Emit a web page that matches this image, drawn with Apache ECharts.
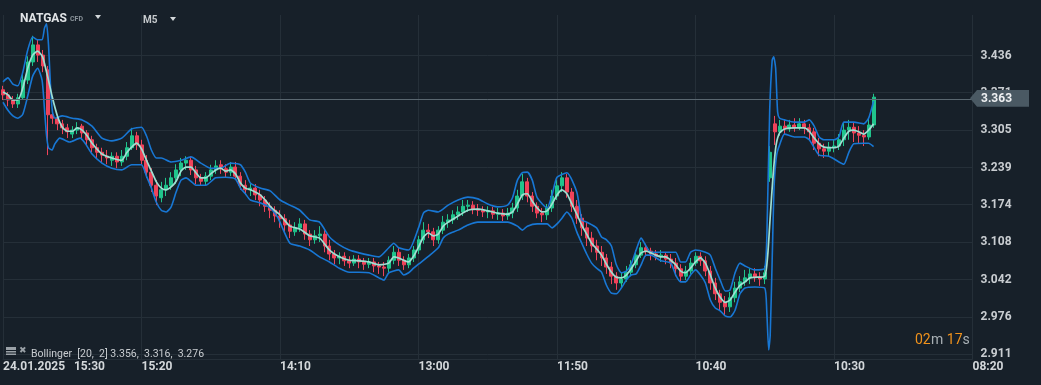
<!DOCTYPE html>
<html><head><meta charset="utf-8">
<script src="https://cdn.jsdelivr.net/npm/echarts@6/dist/echarts.min.js"></script>
<style>html,body{margin:0;padding:0;background:#172029;overflow:hidden;width:1041px;height:385px;}#c{width:1041px;height:385px;}</style>
</head><body><div id="c"></div>
<script>
const xLabels = ['24.01.2025   15:30', '15:20', '14:10', '13:00', '11:50', '10:40', '10:30', '08:20'];
const yTicks = [2.911, 2.976, 3.042, 3.108, 3.174, 3.239, 3.305, 3.371, 3.436];
const lastPrice = 3.363;
const bollingerText = 'Bollinger  [20,  2] 3.356,  3.316,  3.276';
const timerParts = [['02', 'o'], ['m', 'g'], ['17', 'o'], ['s', 'g']];
const slotCount = 197;
// [open, close, low, high]
const candles = [
[3.376,3.367,3.358,3.383],[3.367,3.358,3.347,3.372],[3.358,3.351,3.344,3.365],[3.351,3.362,3.344,3.369],
[3.362,3.393,3.358,3.404],[3.393,3.425,3.386,3.435],[3.425,3.455,3.418,3.471],[3.455,3.437,3.425,3.464],
[3.437,3.418,3.407,3.446],[3.411,3.332,3.261,3.418],[3.332,3.326,3.316,3.340],[3.326,3.316,3.305,3.332],
[3.316,3.309,3.298,3.323],[3.309,3.302,3.291,3.316],[3.298,3.305,3.291,3.312],[3.305,3.309,3.298,3.319],
[3.312,3.300,3.288,3.316],[3.300,3.288,3.277,3.305],[3.288,3.274,3.266,3.295],[3.274,3.266,3.256,3.281],
[3.266,3.261,3.249,3.274],[3.259,3.256,3.245,3.270],[3.252,3.259,3.242,3.266],[3.259,3.249,3.238,3.266],
[3.249,3.259,3.242,3.270],[3.259,3.274,3.252,3.284],[3.274,3.295,3.270,3.309],[3.295,3.279,3.270,3.302],
[3.279,3.252,3.244,3.288],[3.252,3.231,3.221,3.261],[3.231,3.208,3.196,3.238],[3.208,3.189,3.173,3.217],
[3.186,3.200,3.178,3.214],[3.200,3.208,3.189,3.221],[3.207,3.221,3.200,3.231],[3.221,3.235,3.210,3.245],
[3.235,3.247,3.224,3.256],[3.247,3.252,3.235,3.259],[3.252,3.235,3.226,3.259],[3.235,3.221,3.210,3.242],
[3.221,3.215,3.207,3.228],[3.215,3.224,3.207,3.231],[3.224,3.235,3.217,3.244],[3.235,3.242,3.228,3.252],
[3.244,3.237,3.228,3.252],[3.237,3.231,3.221,3.245],[3.231,3.240,3.224,3.249],[3.240,3.224,3.217,3.249],
[3.224,3.208,3.200,3.231],[3.208,3.200,3.191,3.217],[3.200,3.203,3.189,3.210],[3.203,3.191,3.182,3.210],
[3.191,3.182,3.171,3.200],[3.182,3.171,3.161,3.189],[3.171,3.164,3.150,3.178],[3.164,3.154,3.143,3.171],
[3.154,3.149,3.133,3.164],[3.149,3.138,3.126,3.157],[3.138,3.127,3.115,3.147],[3.126,3.133,3.119,3.143],
[3.133,3.140,3.126,3.150],[3.140,3.122,3.112,3.147],[3.122,3.112,3.101,3.129],[3.112,3.119,3.105,3.129],
[3.119,3.122,3.108,3.136],[3.122,3.101,3.090,3.129],[3.101,3.087,3.076,3.112],[3.087,3.080,3.069,3.094],
[3.080,3.083,3.069,3.090],[3.083,3.075,3.066,3.090],[3.075,3.071,3.062,3.083],[3.071,3.078,3.066,3.085],
[3.078,3.073,3.062,3.085],[3.073,3.069,3.059,3.080],[3.069,3.073,3.062,3.080],[3.073,3.066,3.055,3.080],
[3.066,3.064,3.052,3.073],[3.064,3.062,3.048,3.073],[3.062,3.076,3.055,3.083],[3.076,3.090,3.069,3.101],
[3.090,3.076,3.066,3.098],[3.076,3.068,3.059,3.083],[3.068,3.080,3.062,3.087],[3.080,3.094,3.073,3.101],
[3.094,3.112,3.087,3.119],[3.112,3.129,3.105,3.143],[3.129,3.126,3.115,3.140],[3.126,3.112,3.101,3.133],
[3.112,3.129,3.105,3.136],[3.129,3.143,3.122,3.154],[3.143,3.147,3.133,3.157],[3.147,3.156,3.140,3.164],
[3.156,3.161,3.147,3.171],[3.161,3.171,3.154,3.182],[3.171,3.173,3.161,3.182],[3.173,3.166,3.157,3.180],
[3.166,3.164,3.154,3.175],[3.164,3.161,3.152,3.171],[3.161,3.163,3.150,3.171],[3.163,3.157,3.149,3.170],
[3.157,3.159,3.147,3.168],[3.159,3.154,3.145,3.166],[3.154,3.159,3.147,3.168],[3.159,3.168,3.150,3.177],
[3.168,3.189,3.161,3.200],[3.189,3.214,3.182,3.228],[3.214,3.189,3.178,3.221],[3.189,3.171,3.161,3.196],
[3.171,3.159,3.150,3.178],[3.159,3.156,3.143,3.168],[3.156,3.168,3.147,3.175],[3.168,3.189,3.161,3.200],
[3.189,3.207,3.182,3.217],[3.207,3.221,3.196,3.231],[3.221,3.196,3.186,3.228],[3.196,3.171,3.161,3.203],
[3.171,3.150,3.140,3.182],[3.150,3.133,3.119,3.157],[3.133,3.115,3.101,3.143],[3.115,3.101,3.090,3.126],
[3.101,3.090,3.076,3.112],[3.090,3.080,3.066,3.101],[3.080,3.064,3.052,3.087],[3.064,3.048,3.034,3.073],
[3.048,3.036,3.024,3.055],[3.036,3.043,3.027,3.055],[3.043,3.055,3.038,3.066],[3.055,3.068,3.048,3.076],
[3.068,3.085,3.062,3.094],[3.085,3.098,3.080,3.108],[3.098,3.092,3.083,3.105],[3.092,3.087,3.076,3.098],
[3.087,3.083,3.076,3.094],[3.083,3.085,3.073,3.094],[3.085,3.078,3.069,3.090],[3.078,3.071,3.062,3.087],
[3.071,3.061,3.048,3.080],[3.061,3.048,3.038,3.069],[3.048,3.057,3.041,3.066],[3.057,3.071,3.052,3.080],
[3.071,3.083,3.066,3.090],[3.083,3.075,3.066,3.090],[3.075,3.057,3.048,3.083],[3.057,3.036,3.024,3.066],
[3.036,3.017,3.006,3.045],[3.017,3.002,2.988,3.024],[3.002,2.994,2.978,3.013],[2.994,3.010,2.985,3.020],
[3.010,3.027,3.002,3.038],[3.027,3.038,3.020,3.048],[3.038,3.045,3.031,3.059],[3.045,3.052,3.034,3.062],
[3.052,3.046,3.038,3.062],[3.046,3.043,3.031,3.055],[3.043,3.054,3.034,3.066],[3.221,3.266,3.214,3.277],
[3.316,3.302,3.279,3.330],[3.302,3.312,3.295,3.323],[3.312,3.307,3.298,3.323],[3.307,3.314,3.302,3.323],
[3.314,3.309,3.302,3.326],[3.309,3.316,3.305,3.326],[3.316,3.309,3.298,3.323],[3.309,3.302,3.288,3.316],
[3.302,3.282,3.270,3.309],[3.282,3.272,3.259,3.291],[3.272,3.268,3.256,3.281],[3.268,3.275,3.259,3.284],
[3.275,3.277,3.266,3.288],[3.277,3.288,3.270,3.298],[3.288,3.305,3.277,3.319],[3.305,3.310,3.288,3.323],
[3.310,3.300,3.284,3.319],[3.300,3.296,3.281,3.312],[3.296,3.293,3.277,3.305],[3.293,3.314,3.288,3.326],
[3.314,3.363,3.309,3.369]
];
// [slot, value]
const upperBand = [
[0,3.390],[1,3.397],[2,3.386],[3,3.383],[4,3.407],[5,3.446],[6,3.469],[7,3.464],[7.9,3.464],[8.4,3.485],[8.8,3.492],
[9.2,3.455],[9.6,3.384],[10,3.337],[10.5,3.326],[12,3.330],[14,3.326],[16,3.323],[18,3.312],[20,3.291],[22,3.286],
[24,3.291],[26,3.307],[28,3.310],[29,3.295],[30,3.270],[31,3.256],[32,3.256],[34,3.249],[36,3.252],[38,3.258],
[40,3.247],[42,3.238],[44,3.238],[46,3.247],[48,3.244],[49,3.231],[50,3.212],[52,3.203],[54,3.198],[56,3.182],
[58,3.173],[60,3.164],[62,3.147],[64,3.143],[66,3.117],[68,3.103],[70,3.094],[72,3.089],[74,3.085],[76,3.082],
[78,3.098],[79,3.106],[80,3.098],[82,3.094],[84,3.133],[85,3.159],[86,3.164],[88,3.161],[90,3.173],[92,3.182],
[94,3.187],[96,3.184],[98,3.175],[100,3.170],[102,3.173],[103,3.186],[104,3.217],[105,3.230],[106,3.231],
[107,3.217],[108,3.186],[110,3.168],[111,3.191],[112,3.222],[114,3.230],[116,3.196],[117,3.147],[118,3.143],
[120,3.133],[121,3.117],[122,3.112],[123,3.101],[124,3.068],[125,3.054],[126,3.057],[127,3.069],[128,3.094],
[129,3.115],[130,3.101],[131,3.090],[134,3.090],[136,3.090],[137,3.073],[138,3.073],[139,3.090],[140,3.094],
[142,3.090],[143,3.085],[144,3.062],[145,3.041],[146,3.022],[147,3.024],[148,3.054],[149,3.071],[150,3.066],
[152,3.059],[154,3.062],[154.5,3.147],[155,3.340],[155.5,3.428],[155.8,3.434],[156.2,3.414],[156.6,3.337],
[157,3.326],[158,3.323],[160,3.319],[162,3.319],[163,3.323],[164,3.312],[165,3.293],[166,3.288],[168,3.288],
[169,3.293],[170,3.319],[172,3.319],[174,3.316],[175,3.326],[176,3.356]
];
const middleBand = [
[0,3.372],[1,3.367],[2,3.358],[3,3.358],[4,3.379],[5,3.414],[6,3.437],[7,3.444],[8,3.434],[9,3.400],[10,3.362],
[11,3.330],[12,3.310],[13,3.303],[14,3.303],[15,3.309],[16,3.305],[17,3.295],[18,3.282],[20,3.263],[22,3.256],
[24,3.252],[25,3.265],[26,3.275],[27,3.282],[28,3.272],[29,3.252],[30,3.233],[31,3.214],[32,3.203],[33,3.200],
[34,3.205],[35,3.215],[36,3.233],[37,3.240],[38,3.240],[39,3.230],[40,3.221],[41,3.221],[42,3.228],[43,3.235],
[44,3.238],[45,3.233],[46,3.235],[47,3.228],[48,3.212],[49,3.203],[50,3.200],[51,3.196],[52,3.191],[53,3.182],
[54,3.171],[55,3.163],[56,3.156],[58,3.136],[60,3.131],[62,3.119],[64,3.115],[66,3.094],[68,3.082],[70,3.076],
[72,3.075],[74,3.073],[76,3.068],[78,3.071],[79,3.082],[80,3.080],[82,3.073],[83,3.083],[84,3.099],[85,3.117],
[86,3.124],[87,3.119],[88,3.122],[89,3.136],[90,3.143],[92,3.154],[94,3.164],[96,3.166],[98,3.163],[100,3.159],
[102,3.157],[103,3.161],[104,3.175],[105,3.191],[106,3.193],[107,3.180],[108,3.168],[109,3.161],[110,3.163],
[111,3.175],[112,3.191],[113,3.200],[114,3.193],[115,3.175],[116,3.157],[117,3.138],[118,3.122],[119,3.106],
[120,3.096],[121,3.085],[122,3.069],[123,3.055],[124,3.046],[125,3.045],[126,3.050],[127,3.061],[128,3.075],
[129,3.089],[130,3.092],[131,3.089],[132,3.085],[133,3.082],[134,3.082],[135,3.076],[136,3.068],[137,3.057],
[138,3.054],[139,3.062],[140,3.073],[141,3.080],[142,3.071],[143,3.050],[144,3.027],[145,3.011],[146,3.002],
[147,3.006],[148,3.020],[149,3.032],[150,3.038],[151,3.045],[152,3.046],[154,3.048],[154.6,3.085],[155,3.138],
[155.4,3.191],[155.8,3.238],[156.3,3.279],[157,3.300],[158,3.307],[160,3.309],[162,3.309],[163,3.303],[164,3.291],
[165,3.281],[166,3.275],[168,3.274],[169,3.277],[170,3.291],[171,3.303],[172,3.305],[173,3.302],[174,3.298],
[175,3.305],[176,3.316]
];
const lowerBand = [
[0,3.354],[1,3.340],[2,3.330],[3,3.326],[4,3.333],[5,3.365],[6,3.400],[7,3.414],[7.9,3.393],[8.4,3.340],[8.8,3.296],
[9.2,3.274],[9.9,3.270],[10.5,3.281],[11.5,3.291],[13.5,3.284],[15.6,3.291],[16.6,3.282],[18,3.263],[20,3.247],
[22,3.238],[24,3.235],[26,3.244],[28,3.244],[29,3.224],[30,3.203],[31,3.178],[32,3.164],[33,3.161],[34,3.170],
[35,3.196],[36,3.217],[37,3.221],[38,3.215],[39,3.208],[41,3.208],[43,3.221],[45,3.222],[47,3.219],[48,3.203],
[49,3.193],[50,3.182],[52,3.177],[54,3.168],[55.5,3.152],[56,3.143],[58,3.106],[60,3.101],[62,3.094],[64,3.082],
[66,3.073],[68,3.062],[70,3.055],[72,3.055],[74,3.054],[76,3.045],[77,3.041],[78,3.054],[80,3.059],[81,3.050],
[82,3.054],[83,3.062],[84,3.069],[86,3.083],[88,3.098],[89,3.115],[90,3.122],[92,3.129],[94,3.138],[96,3.143],
[100,3.143],[102,3.143],[104,3.136],[105,3.129],[106,3.136],[108,3.140],[110,3.140],[111,3.133],[112,3.140],
[113,3.150],[114,3.161],[115,3.150],[116,3.126],[117,3.106],[118,3.087],[119,3.071],[120,3.062],[121,3.055],
[122,3.032],[123,3.018],[124,3.017],[125,3.027],[126,3.041],[127,3.050],[128,3.052],[129,3.068],[130,3.085],
[131,3.085],[133,3.075],[135,3.071],[136,3.050],[137,3.038],[138,3.038],[139,3.050],[140,3.059],[141,3.050],
[142,3.036],[143,3.006],[144,2.992],[145,2.987],[146,2.978],[147,2.976],[148,2.988],[149,3.017],[150,3.027],
[152,3.029],[154,3.027],[154.4,2.988],[154.8,2.918],[155.1,2.944],[155.5,3.076],[155.9,3.208],[156.4,3.261],
[157,3.279],[158,3.298],[160,3.293],[162,3.293],[163,3.288],[164,3.274],[165,3.261],[167,3.259],[169,3.249],
[170,3.245],[171,3.266],[172,3.281],[174,3.282],[175,3.282],[176,3.276]
];

const categories = Array.from({length: slotCount}, (_, i) => String(i));
const chart = echarts.init(document.getElementById('c'), null, {renderer: 'canvas'});
const bg = '#172029';
const gridColor = '#252f38';
const lineSeries = (name, data, color, width, z) => ({
  name, type: 'line', data, xAxisIndex: 1, yAxisIndex: 0, showSymbol: false, symbol: 'none',
  smooth: 0.2, lineStyle: {color, width}, z, silent: true
});
const timerColors = {o: '#f0921c', g: '#a9b0b5'};
const timerX = [915, 931, 946.8, 962.6];
const timerTexts = timerParts.map((p, i) => ({
  type: 'text', x: timerX[i], y: 340.5, z: 100,
  style: {text: p[0], fill: timerColors[p[1]], font: '14px Roboto', verticalAlign: 'middle'}
}));
chart.setOption({
  backgroundColor: bg,
  animation: false,
  grid: {left: 3, right: 68.5, top: 15, bottom: 26, containLabel: false, outerBoundsMode: 'none'},
  xAxis: [
    {type: 'category', data: categories, boundaryGap: false, show: false},
    {type: 'value', min: 0, max: slotCount - 1, interval: 28, position: 'bottom',
     axisLine: {show: true, lineStyle: {color: gridColor}},
     axisTick: {show: false},
     splitLine: {show: true, lineStyle: {color: gridColor, width: 1}},
     axisLabel: {show: true, showMinLabel: true, showMaxLabel: true, align: 'left', margin: 2,
       color: '#d3d7da', fontFamily: 'Roboto', fontSize: 12, fontWeight: 'bold',
       formatter: v => xLabels[Math.round(v / 28)] || ''}}
  ],
  yAxis: [{
    type: 'value', position: 'right', min: 2.9022, max: 3.5076,
    axisLine: {show: false},
    axisTick: {show: false, customValues: yTicks},
    splitLine: {show: true, lineStyle: {color: gridColor, width: 1}},
    axisLabel: {customValues: yTicks, formatter: v => v.toFixed(3), color: '#c9cdd1',
      fontFamily: 'Roboto', fontSize: 12, fontWeight: 'bold', margin: 8}
  }],
  series: [
    {
      type: 'candlestick', data: candles, xAxisIndex: 0, yAxisIndex: 0, barWidth: 3.5, z: 2,
      itemStyle: {color: '#20c48c', color0: '#f0435a', borderColor: '#20c48c', borderColor0: '#f0435a', borderWidth: 1},
      markLine: {symbol: 'none', silent: true, label: {show: false},
        lineStyle: {color: '#5a6770', width: 1, type: 'solid'}, data: [{yAxis: lastPrice}]}
    },
    lineSeries('upper', upperBand, '#1877d4', 1.6, 3),
    lineSeries('lower', lowerBand, '#1877d4', 1.6, 3),
    lineSeries('middle', middleBand, '#9fdfd2', 1.7, 4)
  ],
  graphic: [
    {type: 'rect', z: 90, shape: {x: 975, y: 374, width: 66, height: 11}, style: {fill: bg}},
    {type: 'rect', z: 90, shape: {x: 1004, y: 362, width: 37, height: 12}, style: {fill: bg}},
    {type: 'text', x: 20, y: 18.6, z: 100, style: {text: 'NATGAS', fill: '#e1e4e7', font: 'bold 12px Roboto', verticalAlign: 'middle'}},
    {type: 'text', x: 70, y: 19.3, z: 100, style: {text: 'CFD', fill: '#8a939a', font: 'bold 7px Roboto', verticalAlign: 'middle'}},
    {type: 'polygon', z: 100, shape: {points: [[95, 15], [101, 15], [98, 19]]}, style: {fill: '#d3d7da'}},
    {type: 'text', x: 143, y: 20.3, z: 100, style: {text: 'M5', fill: '#c6cacd', font: 'bold 10px Roboto', verticalAlign: 'middle'}},
    {type: 'polygon', z: 100, shape: {points: [[170, 17], [176, 17], [173, 21]]}, style: {fill: '#d3d7da'}},
    {type: 'rect', z: 100, shape: {x: 6, y: 347, width: 10, height: 3}, style: {fill: '#9aa1a7'}},
    {type: 'rect', z: 100, shape: {x: 6, y: 351, width: 10, height: 1.5}, style: {fill: '#9aa1a7'}},
    {type: 'rect', z: 100, shape: {x: 6, y: 353.5, width: 10, height: 1.5}, style: {fill: '#9aa1a7'}},
    {type: 'text', x: 19, y: 351, z: 100, style: {text: '\u2716', fill: '#9aa1a7', font: '9px "DejaVu Sans"', verticalAlign: 'middle'}},
    {type: 'text', x: 31, y: 354, z: 100, style: {text: bollingerText, fill: '#c8ccd0', font: '10.5px Roboto', verticalAlign: 'middle'}},
    ...timerTexts,
    {type: 'polygon', z: 100, shape: {points: [[970, 98.3], [977, 90], [1029, 90], [1029, 106.7], [977, 106.7]]}, style: {fill: '#4a5963'}},
    {type: 'text', x: 981, y: 98.6, z: 101, style: {text: lastPrice.toFixed(3), fill: '#eef0f2', font: 'bold 12px Roboto', verticalAlign: 'middle'}}
  ]
});
</script></body></html>
